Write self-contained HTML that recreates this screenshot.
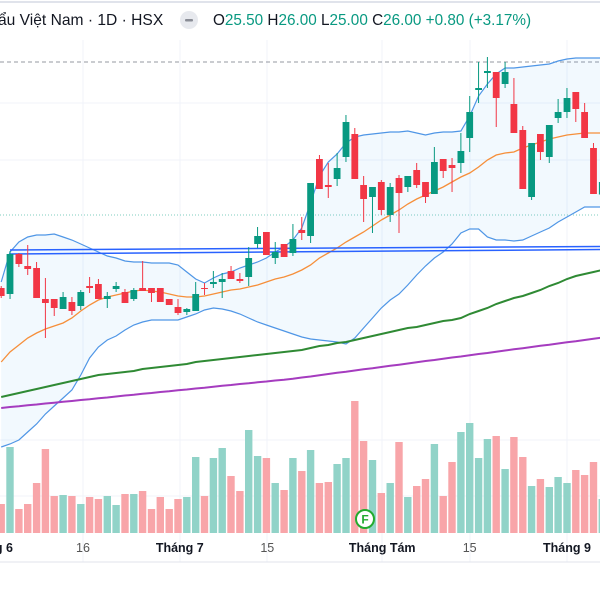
<!DOCTYPE html>
<html><head><meta charset="utf-8">
<style>
html,body{margin:0;padding:0;background:#fff;}
body{width:600px;height:600px;overflow:hidden;position:relative;font-family:"Liberation Sans","DejaVu Sans",sans-serif;}
svg{position:absolute;left:0;top:0;}
</style></head>
<body>
<svg id="chart" width="600" height="600" viewBox="0 0 600 600">
  <line x1="0" y1="2" x2="600" y2="2" stroke="#e0e3eb" stroke-width="2"/>
  <g id="grid"></g>
  <g id="bands"></g>
  <g id="mas"></g>
  <g id="trend">
    <line x1="10" y1="250" x2="600" y2="246.5" stroke="#2962ff" stroke-width="1.5"/>
    <line x1="10" y1="254" x2="600" y2="249.5" stroke="#2962ff" stroke-width="1.5"/>
  </g>
  <g id="volumes"></g>
  <g id="candles"></g>
  <line x1="0" y1="562" x2="600" y2="562" stroke="#e0e3eb" stroke-width="1"/>
  <g id="xlabels" font-size="12.5"></g>
  <g>
    <circle cx="365" cy="519" r="9" fill="#fff" stroke="#22ab2e" stroke-width="2"/>
    <text x="365" y="523.5" font-size="12" font-weight="bold" fill="#22ab2e" text-anchor="middle">F</text>
  </g>
  <g>
    <text x="-2" y="25" font-size="15.6" fill="#131722">ẩu Việt Nam · 1D · HSX</text>
    <circle cx="189" cy="20" r="9" fill="#e7e9ee"/>
    <rect x="185" y="19" width="8" height="2.5" rx="1" fill="#8a8d96"/>
    <text x="213" y="25" font-size="15.3" fill="#131722">O<tspan fill="#089981">25.50</tspan> H<tspan fill="#089981">26.00</tspan> L<tspan fill="#089981">25.00</tspan> C<tspan fill="#089981">26.00</tspan> <tspan fill="#089981">+0.80 (+3.17%)</tspan></text>
  </g>
</svg>
<script>
const opens  = [21.76,21.52,23.12,22.64,22.56,21.32,21.32,20.92,21.20,21.04,21.84,21.92,21.32,21.72,21.60,21.32,21.76,21.76,21.76,21.32,21.00,20.80,20.84,21.76,21.92,22.00,22.44,22.12,22.20,23.52,24.00,22.96,23.52,23.16,24.08,23.84,26.92,25.88,26.12,27.00,27.92,25.88,25.40,26.00,24.68,26.16,25.80,26.48,26.00,25.52,26.92,26.68,26.76,27.76,29.68,30.36,30.40,29.92,29.12,28.08,25.40,27.92,27.00,28.56,28.80,29.60,28.80,27.36,25.50];
const highs  = [21.84,23.24,23.16,23.48,22.80,22.16,21.32,21.60,21.40,21.68,22.20,22.12,21.60,22.00,21.72,21.76,22.84,21.76,21.76,21.32,21.32,20.96,22.00,21.96,22.44,22.36,22.64,22.36,23.40,24.20,24.00,23.60,23.52,24.32,24.60,25.96,27.08,26.76,27.16,28.68,28.16,26.24,25.80,26.08,25.96,26.28,26.24,26.76,26.00,27.40,26.92,26.96,27.96,29.44,30.80,31.00,30.40,30.80,30.16,28.24,27.56,27.92,28.28,29.32,29.76,29.60,29.16,27.56,26.00];
const lows   = [21.36,21.32,22.60,22.28,21.36,19.76,20.64,20.92,20.68,20.88,21.56,21.32,20.96,21.60,21.16,21.24,21.64,21.20,21.20,21.08,20.68,20.68,20.84,21.48,21.76,21.36,22.12,21.96,21.84,23.36,23.08,22.72,23.00,23.04,23.68,23.56,25.72,25.36,25.84,26.80,26.12,24.40,23.96,24.68,24.40,23.96,25.60,25.76,25.16,25.52,26.16,25.60,26.36,27.20,29.16,29.76,28.20,29.76,27.96,25.72,25.28,26.88,26.76,28.36,28.56,28.40,27.76,25.52,25.00];
const closes = [21.44,23.12,22.72,22.52,21.36,21.16,20.96,21.40,20.84,21.60,21.76,21.32,21.44,21.84,21.16,21.68,21.64,21.56,21.20,21.08,20.76,20.92,21.52,21.72,22.00,22.12,22.12,22.04,22.96,23.84,23.08,23.20,23.00,23.72,23.96,25.96,25.72,25.80,26.56,28.40,26.12,25.32,25.80,24.88,25.80,25.56,26.24,25.88,25.40,26.80,26.44,26.56,27.24,28.80,29.76,30.44,29.36,30.40,27.96,25.72,27.56,27.20,28.28,28.80,29.36,28.92,27.76,25.52,26.00];
const volumes = [580,1720,480,580,1000,1680,740,760,740,580,720,680,740,560,780,780,840,480,720,480,680,720,1520,740,1500,1700,1140,840,2060,1540,1500,1000,860,1500,1240,1660,1000,1020,1380,1500,2640,1840,1460,800,1000,1820,720,940,1080,1780,740,1420,2020,2200,1500,1880,1940,1280,1920,1520,940,1080,920,1120,1000,1260,1160,1420,680];
const bbUpper = [22.00,23.20,23.60,23.80,23.88,23.88,23.92,23.80,23.68,23.52,23.36,23.20,23.04,22.96,22.84,22.80,22.80,22.76,22.76,22.76,22.68,22.40,22.12,21.96,22.16,22.32,22.40,22.56,22.68,22.80,22.96,23.20,23.40,23.68,24.16,25.16,26.24,26.80,27.12,27.56,27.80,27.88,27.92,27.96,28.00,28.00,28.04,27.96,27.88,27.96,28.00,28.00,28.04,28.64,29.44,29.92,30.32,30.56,30.56,30.60,30.64,30.68,30.72,30.84,30.92,30.96,30.96,30.96,30.96];
const bbLower = [15.40,15.52,15.68,16.00,16.32,16.72,17.04,17.36,17.68,18.28,18.96,19.40,19.68,19.84,20.08,20.28,20.40,20.48,20.48,20.48,20.48,20.60,20.72,20.88,20.96,20.92,20.84,20.72,20.56,20.40,20.28,20.16,20.04,19.92,19.80,19.72,19.68,19.64,19.60,19.52,19.76,20.16,20.56,20.96,21.28,21.52,21.88,22.28,22.64,22.96,23.20,23.52,23.96,24.12,24.12,23.80,23.68,23.68,23.64,23.68,23.84,24.00,24.16,24.40,24.60,24.80,25.00,25.00,25.00];
const bbMid = [18.80,19.20,19.48,19.76,19.96,20.12,20.24,20.36,20.56,20.84,21.08,21.28,21.40,21.48,21.56,21.64,21.68,21.64,21.60,21.52,21.44,21.40,21.40,21.44,21.52,21.60,21.68,21.72,21.80,21.88,22.00,22.12,22.20,22.32,22.48,22.68,22.96,23.16,23.36,23.60,23.80,24.00,24.24,24.48,24.68,24.88,25.12,25.32,25.48,25.64,25.80,26.00,26.20,26.36,26.60,26.88,27.08,27.16,27.20,27.36,27.48,27.60,27.72,27.80,27.88,27.92,27.96,27.96,27.96];
const maMid = [17.40,17.48,17.56,17.64,17.72,17.80,17.88,17.96,18.04,18.12,18.20,18.28,18.32,18.36,18.40,18.44,18.52,18.56,18.60,18.64,18.68,18.72,18.80,18.84,18.88,18.92,18.96,19.00,19.04,19.08,19.12,19.16,19.20,19.24,19.28,19.36,19.44,19.48,19.56,19.60,19.68,19.76,19.84,19.92,20.00,20.08,20.16,20.20,20.28,20.36,20.44,20.48,20.56,20.72,20.84,20.96,21.12,21.24,21.36,21.44,21.56,21.68,21.84,21.96,22.12,22.24,22.32,22.40,22.48];
const maLong = [16.96,17.00,17.03,17.07,17.10,17.14,17.17,17.21,17.24,17.28,17.31,17.35,17.38,17.42,17.46,17.49,17.53,17.56,17.60,17.63,17.67,17.70,17.74,17.77,17.81,17.85,17.88,17.92,17.95,17.99,18.02,18.06,18.09,18.13,18.18,18.22,18.27,18.32,18.37,18.41,18.46,18.51,18.55,18.60,18.65,18.69,18.74,18.79,18.84,18.88,18.93,18.98,19.02,19.07,19.12,19.16,19.21,19.26,19.31,19.35,19.40,19.45,19.49,19.54,19.59,19.63,19.68,19.73,19.78];
const xLabels = ["g 6","16","Tháng 7","15","Tháng Tám","15","Tháng 9"];
const xLabelIdx = [0.3,9.25,20.2,30.1,43.1,53,64];
const xLabelBold = [true,false,true,false,true,false,true];

const NS = "http://www.w3.org/2000/svg";
const xs = i => 1.2 + 8.84 * i;
const ys = p => 832 - 25 * p;
const yv = v => 533 - v * 0.05;
function mk(tag, attrs, parent){const e=document.createElementNS(NS,tag);for(const k in attrs)e.setAttribute(k,attrs[k]);parent.appendChild(e);return e;}

const grid = document.getElementById('grid');
[103,160].forEach(y=>{const l=mk('line',{x1:0,y1:y,x2:600,y2:y,stroke:'#f0f3fa','stroke-width':1},grid);

});
[440,496].forEach(y=>{const l=mk('line',{x1:0,y1:y,x2:600,y2:y,stroke:'#f0f3fa','stroke-width':1},grid);

});
[83,180,267,382,470,567].forEach(x=>{const l=mk('line',{x1:x,y1:40,x2:x,y2:562,stroke:'#f0f3fa','stroke-width':1},grid);

});
let l1 = mk('line',{x1:0,y1:62,x2:600,y2:62,stroke:'#9598a1','stroke-width':1,'stroke-dasharray':'4,3'},grid);


let l2 = mk('line',{x1:0,y1:215,x2:600,y2:215,stroke:'#7fcdbf','stroke-width':1,'stroke-dasharray':'1,2'},grid);



function pts(arr){return arr.map((v,i)=>xs(i).toFixed(1)+','+ys(v).toFixed(1));}
const bands = document.getElementById('bands');
const fillPts = pts(bbUpper).concat(pts(bbLower).reverse()).join(' ');
const fill = mk('polygon',{points:fillPts,fill:'rgba(33,150,243,0.06)'},bands);


const up = mk('polyline',{points:pts(bbUpper).join(' '),fill:'none',stroke:'#4f96e6','stroke-width':1.2},bands);


const lo = mk('polyline',{points:pts(bbLower).join(' '),fill:'none',stroke:'#4f96e6','stroke-width':1.2},bands);


const mid = mk('polyline',{points:pts(bbMid).join(' '),fill:'none',stroke:'#f68f3a','stroke-width':1.3},bands);



const mas = document.getElementById('mas');
const m1 = mk('polyline',{points:pts(maMid).join(' '),fill:'none',stroke:'#2f8a34','stroke-width':2},mas);


const m2 = mk('polyline',{points:pts(maLong).join(' '),fill:'none',stroke:'#a53cbf','stroke-width':2},mas);



const vg = document.getElementById('volumes');
volumes.forEach((v,i)=>{
  const upc = closes[i] >= opens[i];
  const r = mk('rect',{x:(xs(i)-3.7).toFixed(1),y:yv(v).toFixed(1),width:7.4,height:(533-yv(v)).toFixed(1),fill:upc?'#91d3c8':'#f8a5a9'},vg);
  
  
});

const cg = document.getElementById('candles');
opens.forEach((o,i)=>{
  const c = closes[i], upc = c >= o, col = upc ? '#089981' : '#f23645';
  const g = mk('g',{},cg);
  
  
  const w = mk('line',{x1:xs(i),x2:xs(i),y1:ys(highs[i]),y2:ys(lows[i]),stroke:col,'stroke-width':1},g);
  
  
  const top = ys(Math.max(o,c)), bot = ys(Math.min(o,c));
  const b = mk('rect',{x:(xs(i)-3.4).toFixed(1),y:top.toFixed(1),width:6.8,height:Math.max(1,bot-top).toFixed(1),fill:col},g);
  
  
});

const xl = document.getElementById('xlabels');
xLabels.forEach((t,i)=>{
  const e = mk('text',{x:xs(xLabelIdx[i]).toFixed(1),y:552,'text-anchor':'middle',fill:xLabelBold[i]?'#131722':'#555',
    'font-weight':xLabelBold[i]?'bold':'normal'},xl);
  e.textContent = t;
  
  
});
</script>
</body></html>
